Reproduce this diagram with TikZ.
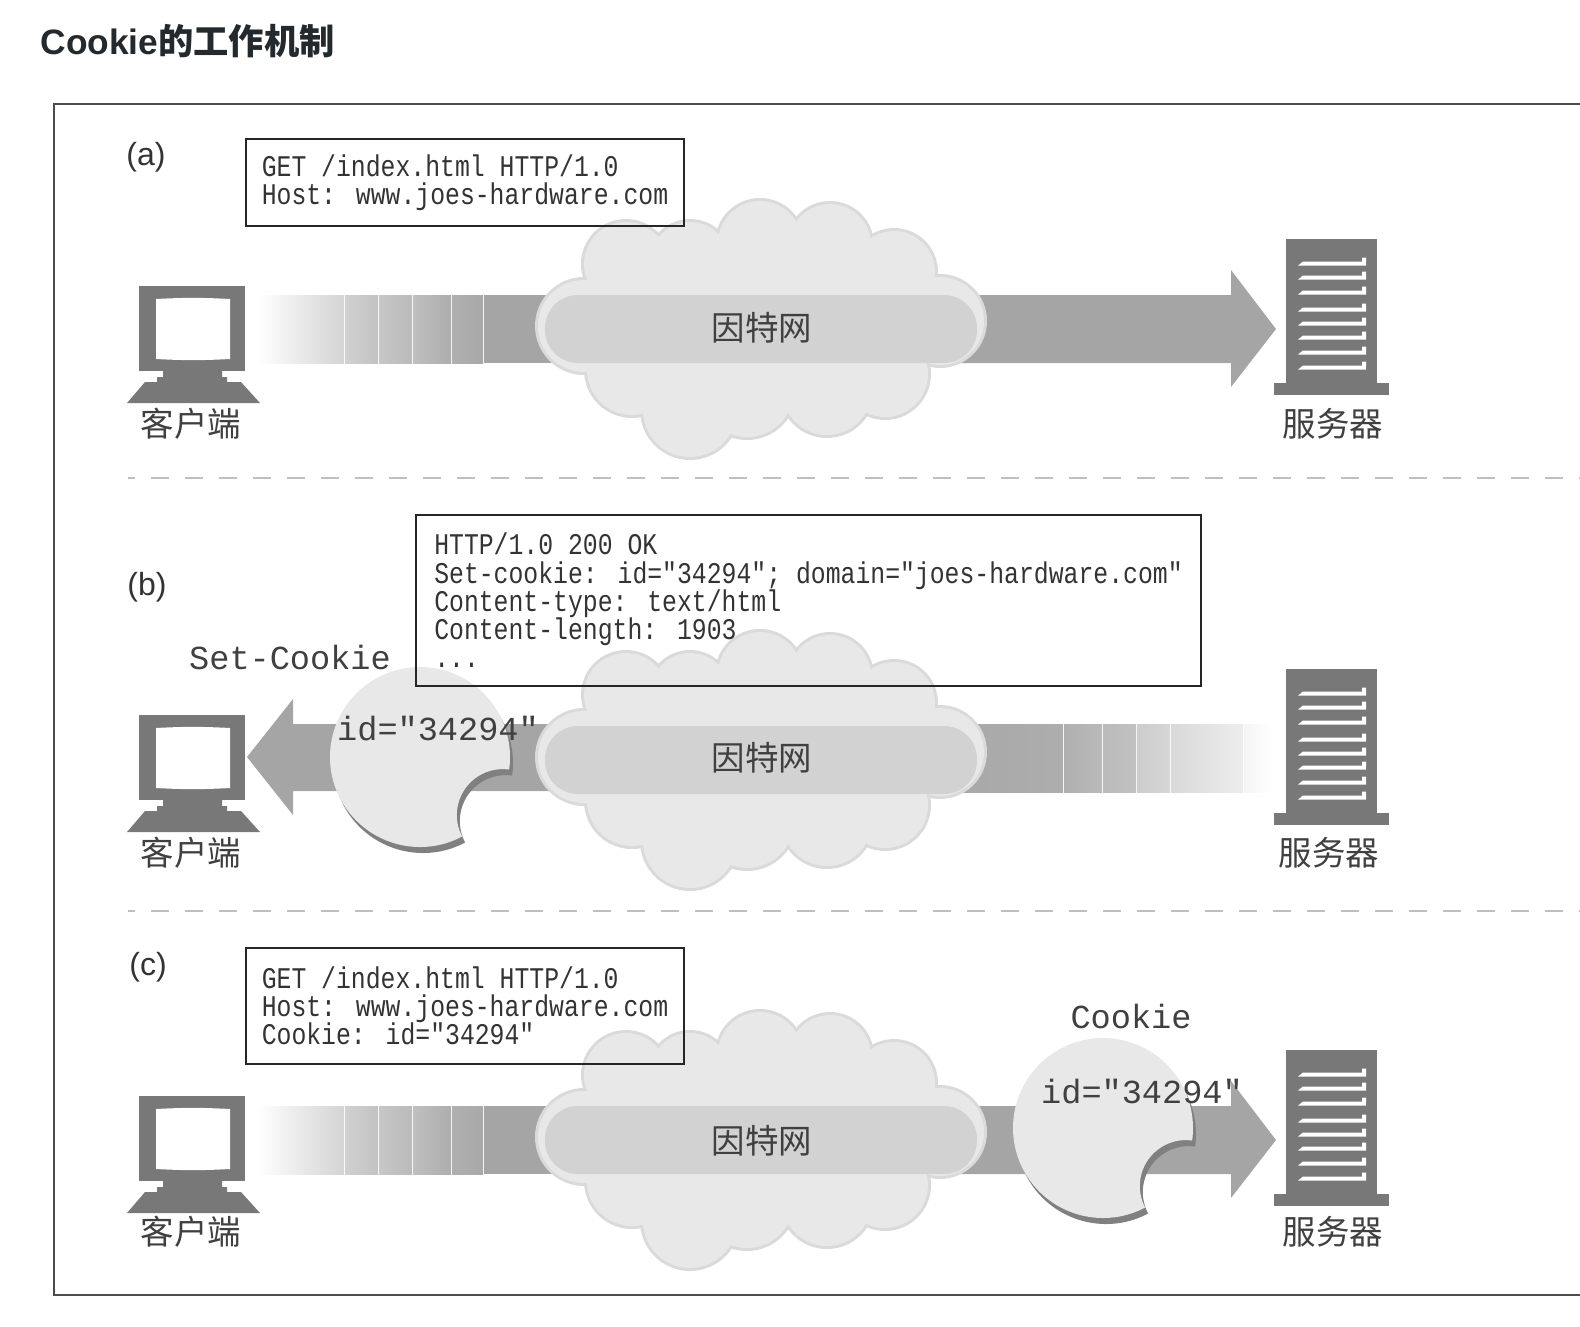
\documentclass[tikz,border=0pt]{standalone}
\usepackage{fontspec}
\setmainfont{Liberation Sans}
\newfontfamily\cjkfont{Noto Sans CJK SC}
\newfontfamily\msgfont[FakeStretch=0.826]{Liberation Mono}
\newfontfamily\cookiefont{Liberation Mono}
\definecolor{iconfill}{HTML}{787878}
\definecolor{arrowfill}{HTML}{A5A5A5}
\definecolor{cloudedge}{HTML}{DADADA}
\definecolor{cloudfill}{HTML}{E8E8E8}
\definecolor{cloudband}{HTML}{D2D2D2}
\definecolor{cookieshade}{HTML}{808080}
\definecolor{titleink}{HTML}{24292E}
\begin{document}
\begin{tikzpicture}[x=1pt, y=-1pt, every node/.style={align=center}]
\tikzset{
  framing/.style={draw=black!70, line width=1.4pt},
  divider/.style={draw=black!25, line width=1.2pt, dash pattern=on 18pt off 16pt, dash phase=11pt},
  panellabel/.style={font=\fontsize{32}{34}\selectfont, text=black!80},
  place/.style={font=\cjkfont\fontsize{33.5}{36}\selectfont, text=black!75},
  msgbox/.style={draw=black!85, line width=2.2pt, minimum width=438pt, align=left, inner sep=0pt, font=\msgfont\fontsize{30}{28.2}\selectfont, text=black!80},
  cookietext/.style={font=\cookiefont\fontsize{33.6}{36}\selectfont, text=black!75, inner sep=0pt},
  cookieoutline/.style={insert path={(62:90) arc[start angle=62, end angle=368, radius=90] arc[start angle=277.9, end angle=152.2, radius=46] -- cycle}},
  client/.pic={
    \fill[iconfill] (139,286) rectangle (245,371);
    \fill[white] (156,299) to[bend left=3] (230,299) -- (230,359) to[bend left=3] (156,359) -- cycle;
    \fill[iconfill] (163,371) rectangle (222,377) (157,377) rectangle (227,382);
    \fill[iconfill] (145,382) -- (241,382) -- (260,403) -- (127,403) -- cycle;
  },
  server/.pic={
    \fill[iconfill] (1286,239) rectangle (1377,383);
    \fill[iconfill] (1274,383) rectangle (1389,395);
    \foreach \ya in {263,277,292,309,323,337,352,367}
      \fill[white] (1298,\ya+2.5) -- (1303,\ya-1.5) -- (1362,\ya-1.5) -- (1362,\ya-5.5) -- (1366,\ya-5.5) -- (1366,\ya+2.5) -- cycle;
  },
  netcloud/.pic={
    \foreach \cx/\cy/\cr in {626/264/45,690/262/43,760/243/45,830/245/44,894/272/44,940/321/47,584/326/49,632/370/48,690/410/50,747/390/50,827/390/48,885/374/46}
      \fill[cloudedge] (\cx,\cy) circle[radius=\cr];
    \foreach \cx/\cy/\cr in {626/264/42,690/262/40,760/243/42,830/245/41,894/272/41,940/321/44,584/326/46,632/370/45,690/410/47,747/390/47,827/390/45,885/374/43}
      \fill[cloudfill] (\cx,\cy) circle[radius=\cr];
    \fill[cloudfill] (610,260) rectangle (900,395);
    \fill[cloudband, rounded corners=33pt] (545,295) rectangle (977,363);
  },
  fadein/.pic={
    \foreach \xa/\xb/\ca/\cb in {257/344/0/17,345/378/18/24,379/412/22/27,413/451/25/32,452/483/31/34}
      \fill[left color=black!\ca, right color=black!\cb] (\xa,295) rectangle (\xb,363);
    \fill[arrowfill] (484,295) rectangle (600,363);
  },
  fadeout/.pic={
    \fill[left color=arrowfill, right color=black!32] (900,295) rectangle (1063,363);
    \foreach \xa/\xb/\ca/\cb in {1064/1102/31/27,1103/1136/27/24,1137/1170/20/16,1171/1243/15/7,1244/1272/4/0}
      \fill[left color=black!\ca, right color=black!\cb] (\xa,295) rectangle (\xb,363);
  },
  cookie/.pic={
    \fill[cookieshade, shift={(3,6)}, cookieoutline];
    \fill[cloudfill, cookieoutline];
  }
}
\useasboundingbox (0,0) rectangle (1580,1326);

\node[anchor=west, inner sep=0pt, font=\bfseries\fontsize{35.3}{38}\selectfont, text=titleink] (heading) at (40.5,41.5) {Cookie{\cjkfont 的工作机制}};
\draw[framing] (1580,104) -- (54,104) -- (54,1295) -- (1580,1295);
\draw[divider] (128,478) -- (1580,478);
\draw[divider] (128,911) -- (1580,911);

% panel a
\pic at (0,0) {fadein};
\fill[arrowfill] (900,295) -- (1231,295) -- (1231,270) -- (1276,329) -- (1231,387) -- (1231,363) -- (900,363) -- cycle;
\pic at (0,0) {netcloud};
\pic at (0,0) {client};
\pic at (0,0) {server};
\node[panellabel] (labela) at (146,157) {(a)};
\node[msgbox, minimum height=87pt] (requesta) at (465,182.5) {GET /index.html HTTP/1.0\\Host: www.joes-hardware.com};
\node[place] (clienta) at (191,424) {客户端};
\node[place] (cloudtexta) at (762,328) {因特网};
\node[place] (servera) at (1333,424) {服务器};

% panel b
\fill[arrowfill] (247,757) -- (293,699) -- (293,724) -- (600,724) -- (600,791) -- (293,791) -- (293,815) -- cycle;
\pic at (0,429) {fadeout};
\pic at (0,431) {netcloud};
\pic at (0,429) {client};
\pic at (0,430) {server};
\pic at (420,757) {cookie};
\node[panellabel] (labelb) at (147,587) {(b)};
\node[msgbox, minimum width=785pt, minimum height=171pt] (replyb) at (808.5,600.5) {HTTP/1.0 200 OK\\Set-cookie: id="34294"; domain="joes-hardware.com"\\Content-type: text/html\\Content-length: 1903\\...};
\node[cookietext] (setcookie) at (290,657) {Set-Cookie};
\node[cookietext] (cookieidb) at (438,729) {id="34294"};
\node[place] (clientb) at (191,853) {客户端};
\node[place] (cloudtextb) at (762,758) {因特网};
\node[place] (serverb) at (1329,853) {服务器};

% panel c
\pic at (0,811) {fadein};
\fill[arrowfill] (900,1106) -- (1231,1106) -- (1231,1081) -- (1276,1140) -- (1231,1198) -- (1231,1174) -- (900,1174) -- cycle;
\pic at (0,811) {netcloud};
\pic at (0,810) {client};
\pic at (0,811) {server};
\pic at (1103,1128) {cookie};
\node[panellabel] (labelc) at (148,967) {(c)};
\node[msgbox, minimum height=116pt] (requestc) at (465,1006) {GET /index.html HTTP/1.0\\Host: www.joes-hardware.com\\Cookie: id="34294"};
\node[cookietext] (cookiename) at (1131,1016) {Cookie};
\node[cookietext] (cookieidc) at (1142,1092) {id="34294"};
\node[place] (clientc) at (191,1232) {客户端};
\node[place] (cloudtextc) at (762,1141) {因特网};
\node[place] (serverc) at (1333,1232) {服务器};
\end{tikzpicture}
\end{document}
